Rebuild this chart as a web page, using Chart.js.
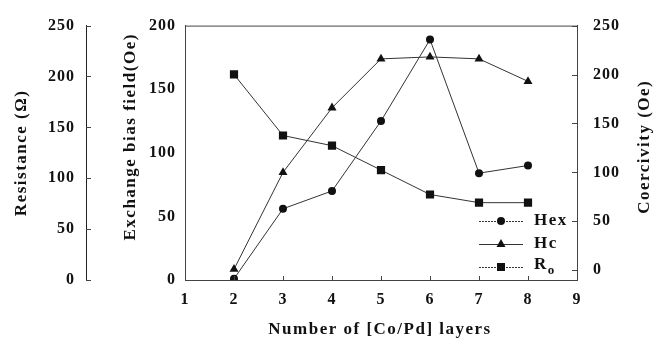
<!DOCTYPE html>
<html>
<head>
<meta charset="utf-8">
<script src="https://cdn.jsdelivr.net/npm/chart.js@4.4.1/dist/chart.umd.min.js"></script>
<style>
html, body { margin: 0; padding: 0; background: #fff; }
</style>
</head>
<body>
<canvas id="myChart" width="665" height="341"></canvas>
<script>
// data
const layers = [2, 3, 4, 5, 6, 7, 8];
const hexValues = [1, 56, 70, 125, 189, 84, 90];      // exchange bias field (Oe)
const hcValues = [1, 100, 166, 216, 218, 216, 193];   // coercivity (Oe)
const roValues = [202, 142, 132, 108, 84, 76, 76];    // resistance (ohm)

const xTicks = [1, 2, 3, 4, 5, 6, 7, 8, 9];
const hexTicks = [0, 50, 100, 150, 200];
const resTicks = [0, 50, 100, 150, 200, 250];
const hcTicks = [0, 50, 100, 150, 200, 250];

const serif = "'Liberation Serif', 'Times New Roman', serif";
const tickFont = { family: serif, size: 16, weight: 'bold' };
const ink = '#111';

function pts(vals) {
    return layers.map((x, i) => ({ x: x, y: vals[i] }));
}
function setTicks(list) {
    return scale => { scale.ticks = list.map(v => ({ value: v })); };
}

// letter spacing like the scanned figure
const spacing = {
    id: 'spacing',
    beforeUpdate(chart) { chart.ctx.letterSpacing = '1px'; },
    beforeDraw(chart) { chart.ctx.letterSpacing = '1px'; }
};

// frame top line + inward tick marks
const frame = {
    id: 'frame',
    afterDraw(chart) {
        const ctx = chart.ctx, a = chart.chartArea;
        const sx = chart.scales.x, sr = chart.scales.yRes, sh = chart.scales.yHc;
        ctx.save();
        ctx.strokeStyle = '#444';
        ctx.lineWidth = 1;
        ctx.beginPath();
        ctx.moveTo(a.left, a.top + 0.5);
        ctx.lineTo(a.right, a.top + 0.5);
        sx.ticks.forEach(t => {
            const px = Math.round(sx.getPixelForValue(t.value)) + 0.5;
            ctx.moveTo(px, a.bottom);
            ctx.lineTo(px, a.bottom - 4);
        });
        sh.ticks.forEach(t => {
            const py = Math.round(sh.getPixelForValue(t.value)) + 0.5;
            ctx.moveTo(a.right, py);
            ctx.lineTo(a.right - 5, py);
        });
        sr.ticks.forEach(t => {
            const py = Math.round(sr.getPixelForValue(t.value)) + 0.5;
            ctx.moveTo(sr.right, py);
            ctx.lineTo(sr.right + 5, py);
        });
        ctx.stroke();
        ctx.restore();
    }
};

// axis titles (right one reads bottom-to-top as in the figure)
const titles = {
    id: 'titles',
    afterDraw(chart) {
        const ctx = chart.ctx, a = chart.chartArea;
        const midY = (a.top + a.bottom) / 2;
        ctx.save();
        ctx.letterSpacing = '1.5px';
        ctx.fillStyle = ink;
        ctx.font = 'bold 17px ' + serif;
        ctx.textAlign = 'center';
        ctx.textBaseline = 'middle';
        ctx.fillText('Number of [Co/Pd] layers', (a.left + a.right) / 2 - 1, 330);
        const vt = (txt, x, y) => {
            ctx.save();
            ctx.translate(x, y);
            ctx.rotate(-Math.PI / 2);
            ctx.fillText(txt, 0, 0);
            ctx.restore();
        };
        vt('Resistance (Ω)', 22, midY);
        vt('Exchange bias field(Oe)', 131, midY - 16);
        vt('Coercivity (Oe)', 645, midY - 6);
        ctx.restore();
    }
};

// legend inside the plot, bottom right
const legendBox = {
    id: 'legendBox',
    afterDraw(chart) {
        const ctx = chart.ctx, a = chart.chartArea;
        const x0 = a.right - 98, x1 = a.right - 54, tx = a.right - 43;
        const rows = [a.bottom - 59, a.bottom - 36, a.bottom - 13];
        const mx = (x0 + x1) / 2;
        ctx.save();
        ctx.strokeStyle = '#333';
        ctx.fillStyle = ink;
        ctx.lineWidth = 1;
        rows.forEach((y, i) => {
            ctx.beginPath();
            ctx.setLineDash(i === 1 ? [] : [2, 1]);
            ctx.moveTo(x0, y + 0.5);
            ctx.lineTo(x1, y + 0.5);
            ctx.stroke();
            ctx.setLineDash([]);
            ctx.beginPath();
            if (i === 0) {
                ctx.arc(mx, y, 4, 0, Math.PI * 2);
            } else if (i === 1) {
                ctx.moveTo(mx, y - 5);
                ctx.lineTo(mx + 4.5, y + 3);
                ctx.lineTo(mx - 4.5, y + 3);
                ctx.closePath();
            } else {
                ctx.rect(mx - 4, y - 4, 8, 8);
            }
            ctx.fill();
        });
        ctx.letterSpacing = '1.5px';
        ctx.font = 'bold 17px ' + serif;
        ctx.textBaseline = 'middle';
        ctx.textAlign = 'left';
        ctx.fillText('Hex', tx, rows[0]);
        ctx.fillText('Hc', tx, rows[1]);
        ctx.fillText('R', tx, rows[2] - 2);
        const w = ctx.measureText('R').width;
        ctx.font = 'bold 13px ' + serif;
        ctx.fillText('o', tx + w, rows[2] + 4);
        ctx.restore();
    }
};

const config = {
    type: 'line',
    data: {
        datasets: [
            {
                label: 'Hex',
                data: pts(hexValues),
                yAxisID: 'yHex',
                borderColor: '#333',
                backgroundColor: ink,
                borderWidth: 1,
                pointStyle: 'circle',
                pointRadius: 4,
                pointBorderWidth: 0
            },
            {
                label: 'Hc',
                data: pts(hcValues),
                yAxisID: 'yHc',
                borderColor: '#333',
                backgroundColor: ink,
                borderWidth: 1,
                pointStyle: 'triangle',
                pointRadius: 5.2,
                pointBorderWidth: 0
            },
            {
                label: 'Ro',
                data: pts(roValues),
                yAxisID: 'yRes',
                borderColor: '#333',
                backgroundColor: ink,
                borderWidth: 1,
                pointStyle: 'rect',
                pointRadius: 5.8,
                pointBorderWidth: 0
            }
        ]
    },
    options: {
        responsive: false,
        animation: false,
        layout: { padding: { top: 17, left: 0, right: 0, bottom: 0 } },
        plugins: { legend: { display: false }, tooltip: { enabled: false } },
        scales: {
            x: {
                type: 'linear',
                position: 'bottom',
                min: 1,
                max: 9,
                afterBuildTicks: setTicks(xTicks),
                afterFit(s) { s.height = 61; },
                grid: { display: false, drawTicks: false },
                border: { display: true, color: '#444' },
                ticks: { font: tickFont, color: ink, padding: 10 }
            },
            yHex: {
                type: 'linear',
                position: 'left',
                weight: 0,
                min: 0,
                max: 200,
                afterBuildTicks: setTicks(hexTicks),
                afterFit(s) { s.width = 99; },
                grid: { display: false, drawTicks: false },
                border: { display: true, color: '#444' },
                ticks: { font: tickFont, color: ink, padding: 9 }
            },
            yRes: {
                type: 'linear',
                position: 'left',
                weight: 1,
                min: 0,
                max: 250,
                afterBuildTicks: setTicks(resTicks),
                afterFit(s) { s.width = 86; },
                grid: { display: false, drawTicks: false },
                border: { display: true, color: '#222' },
                ticks: { font: tickFont, color: ink, padding: 11 }
            },
            yHc: {
                type: 'linear',
                position: 'right',
                min: -10,
                max: 250,
                afterBuildTicks: setTicks(hcTicks),
                afterFit(s) { s.width = 88; },
                grid: { display: false, drawTicks: false },
                border: { display: true, color: '#444' },
                ticks: { font: tickFont, color: ink, padding: 16 }
            }
        }
    },
    plugins: [spacing, frame, titles, legendBox]
};

const myChart = new Chart('myChart', config);
</script>
</body>
</html>
